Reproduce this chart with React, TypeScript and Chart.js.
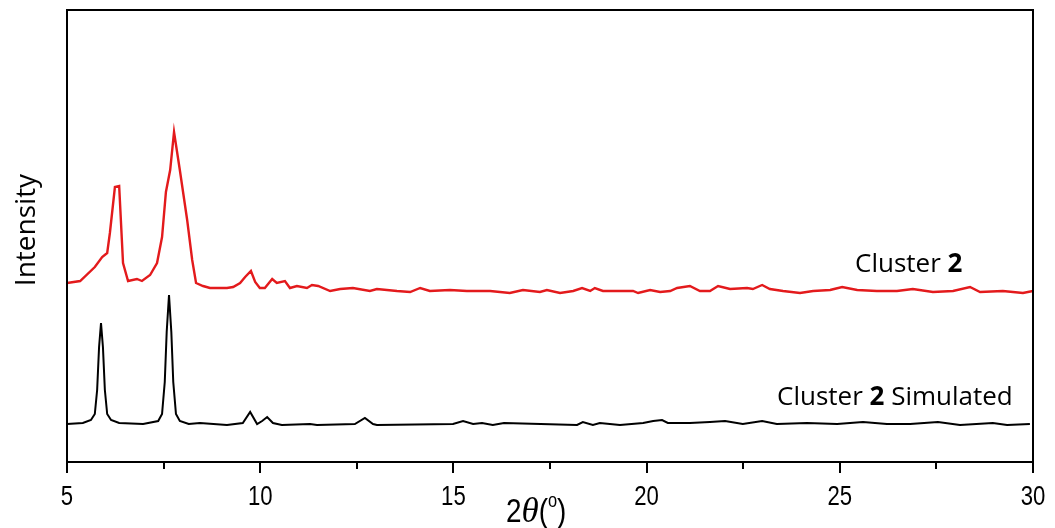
import React, { useEffect, useRef } from "react";
import { Chart, registerables } from "chart.js";

Chart.register(...registerables);

// 2θ positions and intensities (arbitrary units)
const expX = [5.0, 5.34, 5.72, 5.91, 6.04, 6.11, 6.24, 6.35, 6.45, 6.58, 6.81, 6.94, 7.15, 7.33, 7.46, 7.56, 7.67, 7.77, 7.92, 8.11, 8.24, 8.34, 8.52, 8.7, 9.14, 9.3, 9.48, 9.61, 9.76, 9.87, 9.99, 10.12, 10.31, 10.43, 10.64, 10.77, 10.95, 11.21, 11.34, 11.5, 11.81, 12.07, 12.4, 12.84, 13.02, 13.54, 13.88, 14.14, 14.39, 14.91, 15.35, 15.77, 15.95, 16.46, 16.8, 17.24, 17.42, 17.76, 18.1, 18.33, 18.54, 18.66, 18.87, 19.65, 19.78, 20.09, 20.35, 20.61, 20.79, 21.12, 21.38, 21.64, 21.85, 22.16, 22.6, 22.75, 22.99, 23.19, 23.53, 23.97, 24.31, 24.75, 25.06, 25.45, 25.96, 26.48, 26.89, 27.41, 27.93, 28.37, 28.63, 29.22, 29.74, 30.0];
const expY = [179, 181, 195, 205, 209, 229, 275, 276, 199, 181, 183, 181, 187, 199, 225, 270, 292, 330, 292, 242, 202, 179, 176, 174, 174, 175, 179, 185, 191, 180, 174, 174, 183, 179, 181, 174, 176, 174, 177, 176, 171, 173, 174, 171, 173, 171, 170, 174, 171, 172, 171, 171, 171, 169, 172, 170, 172, 169, 171, 174, 171, 174, 171, 171, 169, 172, 170, 171, 174, 176, 171, 171, 176, 173, 174, 173, 177, 173, 171, 169, 171, 172, 175, 172, 171, 171, 173, 170, 171, 175, 170, 171, 169, 171];

const simX = [5.0, 5.41, 5.62, 5.72, 5.78, 5.83, 5.88, 5.93, 5.98, 6.04, 6.14, 6.35, 6.97, 7.36, 7.46, 7.53, 7.58, 7.64, 7.7, 7.75, 7.82, 7.92, 8.15, 8.44, 9.14, 9.55, 9.74, 9.92, 10.05, 10.18, 10.33, 10.56, 11.29, 11.47, 12.45, 12.71, 12.92, 13.02, 14.99, 15.25, 15.51, 15.74, 16.02, 16.31, 18.2, 18.35, 18.61, 18.79, 19.31, 19.91, 20.17, 20.4, 20.55, 21.12, 21.64, 22.03, 22.49, 22.99, 23.37, 24.15, 24.93, 25.6, 26.22, 26.82, 27.54, 28.11, 28.96, 29.33, 29.92];
const simY = [38, 39, 42, 48, 72, 115, 139, 115, 72, 48, 42, 39, 38, 41, 48, 80, 130, 167, 130, 80, 48, 41, 38, 39, 37, 39, 50, 38, 41, 45, 39, 37, 38, 37, 38, 44, 38, 37, 38, 41, 38, 39, 37, 39, 37, 40, 37, 39, 37, 39, 41, 42, 39, 39, 40, 41, 38, 41, 38, 39, 38, 40, 38, 38, 40, 37, 39, 37, 38];

const xTicks = [5, 10, 15, 20, 25, 30];
const xMinorTicks = [7.5, 12.5, 17.5, 22.5, 27.5];

const pts = (xs: number[], ys: number[]) => xs.map((x, i) => ({ x, y: ys[i] }));

const NARROW = 0.82;

const decor = {
  id: "decor",
  afterDraw(chart: any) {
    const { ctx, chartArea } = chart;
    const xs = chart.scales.x;
    ctx.save();
    ctx.strokeStyle = "#000";
    ctx.lineWidth = 2;
    ctx.strokeRect(chartArea.left, chartArea.top, chartArea.right - chartArea.left, chartArea.bottom - chartArea.top);
    // ticks
    ctx.beginPath();
    xTicks.forEach((v) => {
      const px = Math.round(xs.getPixelForValue(v));
      ctx.moveTo(px, chartArea.bottom);
      ctx.lineTo(px, chartArea.bottom + 11);
    });
    xMinorTicks.forEach((v) => {
      const px = Math.round(xs.getPixelForValue(v));
      ctx.moveTo(px, chartArea.bottom);
      ctx.lineTo(px, chartArea.bottom + 7);
    });
    ctx.stroke();

    ctx.fillStyle = "#000";
    // tick labels (narrow sans)
    ctx.font = '27px "Liberation Sans"';
    ctx.textAlign = "center";
    ctx.textBaseline = "alphabetic";
    xTicks.forEach((v) => {
      const px = xs.getPixelForValue(v);
      ctx.save();
      ctx.translate(px, 505);
      ctx.scale(NARROW, 1);
      ctx.fillText(String(v), 0, 0);
      ctx.restore();
    });

    // y title
    ctx.save();
    ctx.translate(27, 230);
    ctx.rotate(-Math.PI / 2);
    ctx.font = '28px "Open Sans"';
    ctx.textAlign = "center";
    ctx.textBaseline = "middle";
    ctx.fillText("Intensity", 0, 0);
    ctx.restore();

    const runs = (x: number, y: number, parts: [string, string, number?, number?][]) => {
      ctx.textAlign = "left";
      ctx.textBaseline = "alphabetic";
      let cx = x;
      parts.forEach(([t, f, dy, sx]) => {
        ctx.font = f;
        const k = sx || 1;
        ctx.save();
        ctx.translate(cx, y + (dy || 0));
        ctx.scale(k, 1);
        ctx.fillText(t, 0, 0);
        ctx.restore();
        cx += ctx.measureText(t).width * k;
      });
    };
    const reg = '26px "Open Sans"';
    const bold = 'bold 26px "Open Sans"';
    runs(855, 272, [["Cluster ", reg], ["2", bold]]);
    runs(777, 405, [["Cluster ", reg], ["2", bold], [" Simulated", reg]]);

    // x title
    const nar = '34px "Liberation Sans"';
    runs(506, 522, [
      ["2", nar, 0, NARROW],
      ["θ", 'italic 35px "Liberation Serif"', 0, 1],
      ["(", nar, 0, NARROW],
      ["o", '20px "Liberation Sans"', -15, NARROW],
      [")", nar, 0, NARROW],
    ]);
    ctx.restore();
  },
};

export default function App() {
  const ref = useRef<HTMLCanvasElement>(null);
  useEffect(() => {
    document.body.style.margin = "0";
    const chart = new Chart(ref.current!, {
      type: "line",
      data: {
        datasets: [
          {
            label: "Cluster 2",
            data: pts(expX, expY),
            borderColor: "#e31a1c",
            borderWidth: 2.4,
            pointRadius: 0,
            tension: 0,
          },
          {
            label: "Cluster 2 Simulated",
            data: pts(simX, simY),
            borderColor: "#000",
            borderWidth: 2,
            pointRadius: 0,
            tension: 0,
          },
        ],
      },
      options: {
        responsive: false,
        animation: false,
        layout: { padding: { left: 67, right: 22, top: 10, bottom: 0 } },
        plugins: { legend: { display: false }, tooltip: { enabled: false } },
        scales: {
          x: {
            type: "linear",
            min: 5,
            max: 30,
            grid: { display: false },
            border: { display: false },
            ticks: { display: false, stepSize: 5 },
            afterFit: (s: any) => {
              s.height = 66;
            },
          },
          y: { display: false, min: 0, max: 452 },
        },
      },
      plugins: [decor],
    });
    return () => chart.destroy();
  }, []);
  return (
    <div style={{ width: 1055, height: 528 }}>
      <canvas ref={ref} width={1055} height={528} />
    </div>
  );
}
